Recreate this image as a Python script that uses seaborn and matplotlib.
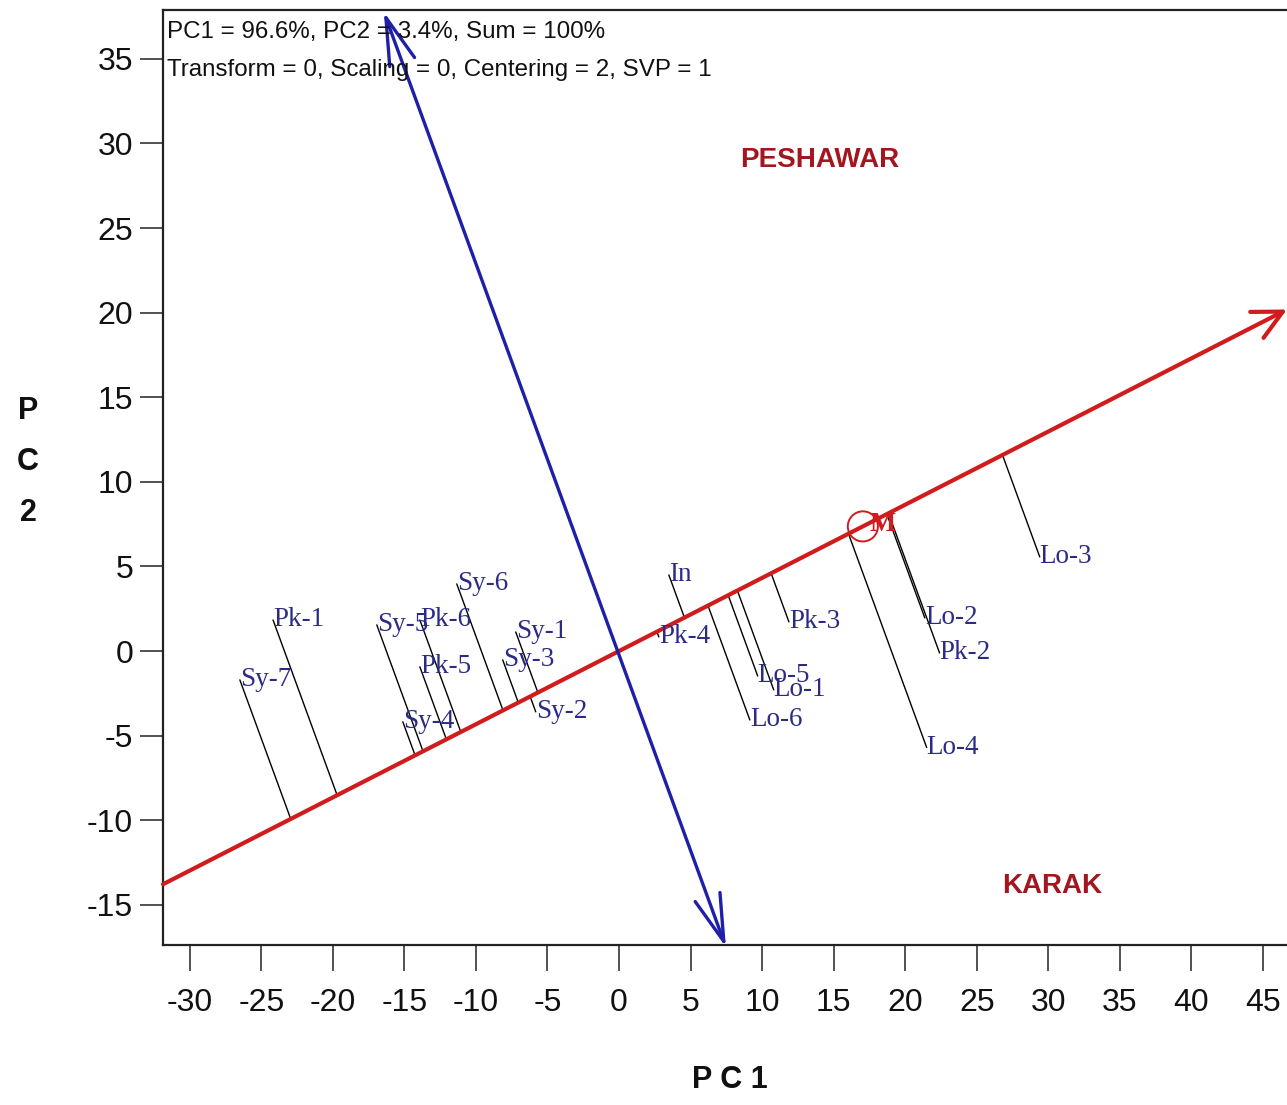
import numpy as np
import pandas as pd
import matplotlib
matplotlib.use("Agg")
import matplotlib.pyplot as plt
import seaborn as sns
from matplotlib import font_manager

# ---------------- data ----------------
genotypes = ['Pk-1', 'Sy-7', 'Sy-5', 'Pk-6', 'Pk-5', 'Sy-4', 'Sy-6', 'Sy-1', 'Sy-3', 'Sy-2',
             'In', 'Pk-4', 'Pk-3', 'Lo-5', 'Lo-1', 'Lo-6', 'Lo-4', 'Lo-2', 'Pk-2', 'Lo-3']
pc1 = [-24.18, -26.50, -16.93, -13.92, -13.92, -15.11, -11.34, -7.22, -8.13, -5.82,
       3.48, 2.78, 11.87, 9.69, 10.81, 9.14, 21.50, 21.37, 22.40, 29.40]
pc2 = [1.84, -1.70, 1.55, 1.84, -0.93, -4.18, 3.97, 1.13, -0.52, -3.59,
       4.50, 0.84, 1.73, -1.47, -2.29, -4.07, -5.70, 1.96, -0.11, 5.57]

mean_env = (17.04, 7.37)          # average environment marker "M"
aec_start = (-31.87, -13.78)      # average environment axis (red)
aec_end = (46.68, 20.19)
ato_start = (7.47, -17.50)        # perpendicular axis (blue), double-headed
ato_end = (-16.44, 37.78)

header1 = "PC1 = 96.6%, PC2 = 3.4%, Sum = 100%"
header2 = "Transform = 0, Scaling = 0, Centering = 2, SVP = 1"
env_labels = ["PESHAWAR", "KARAK"]
env_pos = [(14.0, 29.0), (30.3, -13.9)]

xticks = list(range(-30, 50, 5))
yticks = list(range(-15, 40, 5))
xlim = (-31.87, 46.68)
ylim = (-17.37, 37.89)

# ---------------- style ----------------
sns.set_theme(style="white")
names = {f.name for f in font_manager.fontManager.ttflist}
narrow = "Liberation Sans Narrow" if "Liberation Sans Narrow" in names else None
sans = "Liberation Sans" if "Liberation Sans" in names else "DejaVu Sans"
serif = "Liberation Serif" if "Liberation Serif" in names else "DejaVu Serif"
plt.rcParams["font.family"] = [sans, "DejaVu Sans"]

tick_font = narrow if narrow else sans
tick_size = 27 if narrow else 23
env_font = narrow if narrow else sans
env_size = 23 if narrow else 20

W, H = 1287, 1105
fig = plt.figure(figsize=(W / 100, H / 100), dpi=100)
ax = fig.add_axes([163 / W, 1 - 945 / H, 1 - 163 / W, (945 - 10) / H])

df = pd.DataFrame({"genotype": genotypes, "PC1": pc1, "PC2": pc2})

# projection lines onto the AEC axis
d = np.array(mean_env) / np.hypot(*mean_env)
pts = df[["PC1", "PC2"]].to_numpy()
feet = (pts @ d)[:, None] * d[None, :]
for (x0, y0), (x1, y1) in zip(pts, feet):
    ax.plot([x0, x1], [y0, y1], color="black", lw=1.0, zorder=2)

# red average environment axis with open arrowhead
ax.annotate("", xy=aec_end, xytext=aec_start, xycoords="data",
            arrowprops=dict(arrowstyle="->,head_length=2.1,head_width=1.05",
                            color="#d01c1c", lw=3.0, shrinkA=0, shrinkB=0,
                            mutation_scale=10),
            annotation_clip=False, zorder=4)

# blue double-headed axis
ax.annotate("", xy=ato_end, xytext=ato_start, xycoords="data",
            arrowprops=dict(arrowstyle="<->,head_length=3.4,head_width=0.95",
                            color="#1f1fa8", lw=2.4, shrinkA=0, shrinkB=0,
                            mutation_scale=10),
            annotation_clip=False, zorder=4)

# mean environment marker
sns.scatterplot(x=[mean_env[0]], y=[mean_env[1]], ax=ax, s=470, marker="o",
                facecolor="none", edgecolor="#d01c1c", linewidth=1.4, zorder=5,
                legend=False)
ax.text(mean_env[0] + 0.45, mean_env[1] + 0.1, "M", color="#d01c1c",
        fontsize=20, fontweight="bold", family=serif, ha="left", va="center", zorder=6)

# genotype labels
for name, x, y in zip(genotypes, pc1, pc2):
    ax.text(x, y, name, color="#2b2b86", fontsize=19.5, family=serif,
            ha="left", va="center", zorder=6)

# environment names
for lab, (x, y) in zip(env_labels, env_pos):
    ax.text(x, y, lab, color="#a3161f", fontsize=env_size, fontweight="bold",
            family=env_font, ha="center", va="center", zorder=6)

ax.set_xlim(*xlim)
ax.set_ylim(*ylim)
ax.set_xticks(xticks)
ax.set_yticks(yticks)
ax.set_xticklabels([str(t) for t in xticks], family=tick_font, fontsize=tick_size)
ax.set_yticklabels([str(t) for t in yticks], family=tick_font, fontsize=tick_size)
ax.tick_params(axis="x", direction="out", length=19, width=1.1, pad=12,
               color="#222222", labelcolor="#111111", bottom=True)
ax.tick_params(axis="y", direction="out", length=16.5, width=1.1, pad=5,
               color="#222222", labelcolor="#111111", left=True)
for side in ["left", "top", "bottom"]:
    ax.spines[side].set_visible(True)
    ax.spines[side].set_color("#222222")
    ax.spines[side].set_linewidth(1.6)
ax.spines["right"].set_visible(False)
ax.set_xlabel("")
ax.set_ylabel("")
ax.grid(False)

fig.text(167 / W, 1 - 32 / H, header1, fontsize=17.4, family=sans, color="#111111",
         ha="left", va="center")
fig.text(167 / W, 1 - 70 / H, header2, fontsize=17.4, family=sans, color="#111111",
         ha="left", va="center")

fig.text(28 / W, 1 - 462 / H, "P\nC\n2", fontsize=22, fontweight="bold",
         ha="center", va="center", linespacing=1.9, color="#111111")
fig.text(730 / W, 1 - 1080 / H, "P C 1", fontsize=22, fontweight="bold",
         ha="center", va="center", color="#111111")

fig.savefig("out.png", dpi=100)
